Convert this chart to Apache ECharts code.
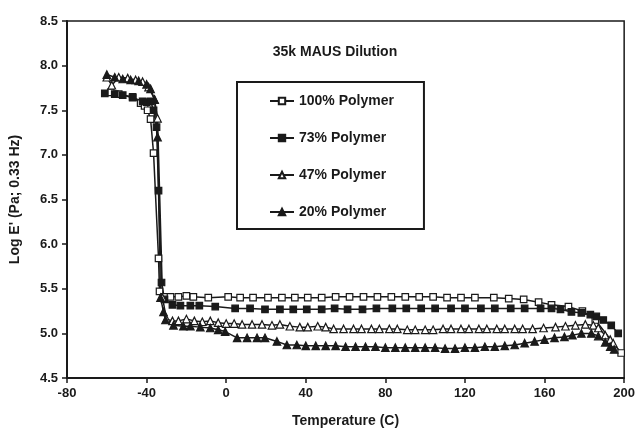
<!DOCTYPE html>
<html>
<head>
<meta charset="utf-8">
<script src="https://cdn.jsdelivr.net/npm/echarts@6/dist/echarts.min.js"></script>
<style>
  html, body { margin: 0; padding: 0; background: #fff; }
  #main { width: 638px; height: 433px; }
</style>
</head>
<body>
<div id="main"></div>
<script>
// 100% Polymer (open squares)
var t100 = [-58, -54, -47, -43, -41, -39.5, -38, -36.5, -34, -33.5, -31, -28, -24, -20, -16.5, -9, 1, 7, 13.5, 21, 28, 34.5, 41, 48, 55, 62, 69, 76, 83, 90, 97, 104, 111, 118, 125, 134.5, 142, 149.5, 157, 163.5, 172, 179, 185.5, 198.5];
var v100 = [7.70, 7.68, 7.65, 7.58, 7.55, 7.50, 7.40, 7.02, 5.84, 5.47, 5.41, 5.41, 5.41, 5.42, 5.41, 5.40, 5.41, 5.40, 5.40, 5.40, 5.40, 5.40, 5.40, 5.40, 5.41, 5.41, 5.41, 5.41, 5.41, 5.41, 5.41, 5.41, 5.40, 5.40, 5.40, 5.40, 5.39, 5.38, 5.35, 5.32, 5.30, 5.25, 5.15, 4.78];

// 73% Polymer (filled squares)
var t73 = [-61, -56, -52, -47, -42, -40, -38, -36.5, -35, -34, -32.5, -31, -27, -23, -18, -13.5, -5.5, 4.5, 12, 19.5, 27, 33.7, 40.5, 48, 54.5, 61, 68.5, 75.5, 83.5, 90.5, 98, 105, 113, 120, 128, 135, 143, 150, 158, 163.5, 168, 173.5, 178.5, 183, 186, 189.5, 193.5, 197];
var v73 = [7.69, 7.68, 7.67, 7.64, 7.60, 7.59, 7.60, 7.50, 7.31, 6.60, 5.57, 5.38, 5.32, 5.31, 5.31, 5.31, 5.30, 5.28, 5.28, 5.27, 5.27, 5.27, 5.27, 5.27, 5.28, 5.27, 5.27, 5.28, 5.28, 5.28, 5.28, 5.28, 5.28, 5.28, 5.28, 5.28, 5.28, 5.28, 5.28, 5.28, 5.27, 5.24, 5.23, 5.21, 5.19, 5.15, 5.09, 5.00];

// 47% Polymer (open triangles)
var t47 = [-60, -57.5, -54, -49.5, -45.5, -42, -39, -36, -34.5, -32, -30, -27, -24, -20, -16, -12, -8, -4, 0, 4, 8, 13, 18, 23, 27, 32, 37, 41, 46, 50, 54, 59, 64, 68, 73, 77, 82, 86, 91, 95, 100, 104, 109, 113, 118, 122, 127, 131, 136, 140, 145, 149, 154, 159.5, 165.5, 170.5, 175.5, 180.5, 184.5, 187, 190.5, 193, 194.5];
var v47 = [7.87, 7.78, 7.87, 7.86, 7.84, 7.82, 7.76, 7.62, 7.41, 5.40, 5.16, 5.14, 5.14, 5.16, 5.14, 5.13, 5.14, 5.12, 5.11, 5.11, 5.10, 5.10, 5.10, 5.09, 5.10, 5.08, 5.07, 5.07, 5.08, 5.07, 5.05, 5.05, 5.05, 5.05, 5.05, 5.05, 5.05, 5.05, 5.04, 5.04, 5.04, 5.04, 5.05, 5.05, 5.05, 5.05, 5.05, 5.05, 5.05, 5.05, 5.05, 5.05, 5.05, 5.06, 5.07, 5.08, 5.09, 5.10, 5.09, 5.06, 4.98, 4.93, 4.89];

// 20% Polymer (filled triangles)
var t20 = [-60, -56, -52, -48, -44, -40, -38, -36, -34.5, -33, -31.5, -30.5, -26.5, -21.5, -18, -13, -8, -4, -0.5, 5.5, 10.5, 15.5, 19.5, 25.5, 30.5, 35.5, 40, 45, 50, 55, 60, 65, 70, 75, 80, 85, 90, 95, 100, 105, 110, 115, 120, 125, 130, 135, 140, 145, 150, 155, 160, 165, 170, 174, 178.5, 183.5, 187, 190.5, 193, 195];
var v20 = [7.90, 7.87, 7.85, 7.84, 7.83, 7.79, 7.74, 7.62, 7.20, 5.40, 5.24, 5.15, 5.09, 5.08, 5.08, 5.07, 5.06, 5.04, 5.02, 4.95, 4.95, 4.95, 4.95, 4.91, 4.87, 4.87, 4.86, 4.86, 4.86, 4.86, 4.85, 4.85, 4.85, 4.85, 4.84, 4.84, 4.84, 4.84, 4.84, 4.84, 4.83, 4.83, 4.84, 4.84, 4.85, 4.85, 4.86, 4.87, 4.89, 4.91, 4.93, 4.95, 4.96, 4.98, 5.00, 5.00, 4.97, 4.90, 4.85, 4.82];

var seriesNames = ['100% Polymer', '73% Polymer', '47% Polymer', '20% Polymer'];

function pairs(xs, ys) {
  var out = [];
  for (var i = 0; i < xs.length; i++) {
    out.push([xs[i], ys[i]]);
  }
  return out;
}

var FONT = '"Liberation Sans", Arial, sans-serif';
var INK = '#1a1a1a';

function makeSeries(name, data, symbol, filled, size) {
  return {
    name: name,
    type: 'line',
    data: data,
    symbol: symbol,
    symbolSize: size,
    showAllSymbol: true,
    lineStyle: { color: INK, width: 1.5 },
    itemStyle: { color: filled ? INK : '#fff', borderColor: INK, borderWidth: 1.2 },
    emphasis: { disabled: true },
    animation: false
  };
}

var chartDom = document.getElementById('main');
var myChart = echarts.init(chartDom);
var option = {
  backgroundColor: '#fff',
  title: {
    text: '35k MAUS Dilution',
    left: 330,
    top: 40,
    textAlign: 'center',
    textStyle: { fontFamily: FONT, fontSize: 14, fontWeight: 'bold', color: INK }
  },
  legend: {
    data: seriesNames,
    orient: 'vertical',
    left: 237,
    top: 82,
    padding: [12, 30, 10, 32],
    itemGap: 23,
    itemWidth: 24,
    itemHeight: 8,
    backgroundColor: '#fff',
    borderColor: INK,
    borderWidth: 2,
    textStyle: { fontFamily: FONT, fontSize: 14, fontWeight: 'bold', color: INK }
  },
  grid: {
    left: 66,
    right: 12,
    top: 21,
    bottom: 55,
    show: true,
    borderColor: INK,
    borderWidth: 1.5
  },
  xAxis: {
    type: 'value',
    min: -80,
    max: 200,
    interval: 40,
    name: 'Temperature (C)',
    nameLocation: 'middle',
    nameGap: 36,
    nameTextStyle: { fontFamily: FONT, fontSize: 14, fontWeight: 'bold', color: INK },
    axisLine: { onZero: false, lineStyle: { color: INK, width: 2 } },
    axisTick: { show: true, length: 5, lineStyle: { color: INK, width: 1.5 } },
    axisLabel: { fontFamily: FONT, fontSize: 13, fontWeight: 'bold', color: INK, margin: 9 },
    splitLine: { show: false }
  },
  yAxis: {
    type: 'value',
    min: 4.5,
    max: 8.5,
    interval: 0.5,
    name: "Log E' (Pa; 0.33 Hz)",
    nameLocation: 'middle',
    nameGap: 45,
    nameTextStyle: { fontFamily: FONT, fontSize: 14, fontWeight: 'bold', color: INK },
    axisLine: { show: true, onZero: false, lineStyle: { color: INK, width: 2 } },
    axisTick: { show: true, length: 5, lineStyle: { color: INK, width: 1.5 } },
    axisLabel: {
      fontFamily: FONT, fontSize: 13, fontWeight: 'bold', color: INK, margin: 9,
      formatter: function (v) { return v.toFixed(1); }
    },
    splitLine: { show: false }
  },
  series: [
    makeSeries(seriesNames[0], pairs(t100, v100), 'rect', false, 6.5),
    makeSeries(seriesNames[1], pairs(t73, v73), 'rect', true, 6.5),
    makeSeries(seriesNames[2], pairs(t47, v47), 'triangle', false, 7.5),
    makeSeries(seriesNames[3], pairs(t20, v20), 'triangle', true, 7.5)
  ]
};
option && myChart.setOption(option);
</script>
</body>
</html>
